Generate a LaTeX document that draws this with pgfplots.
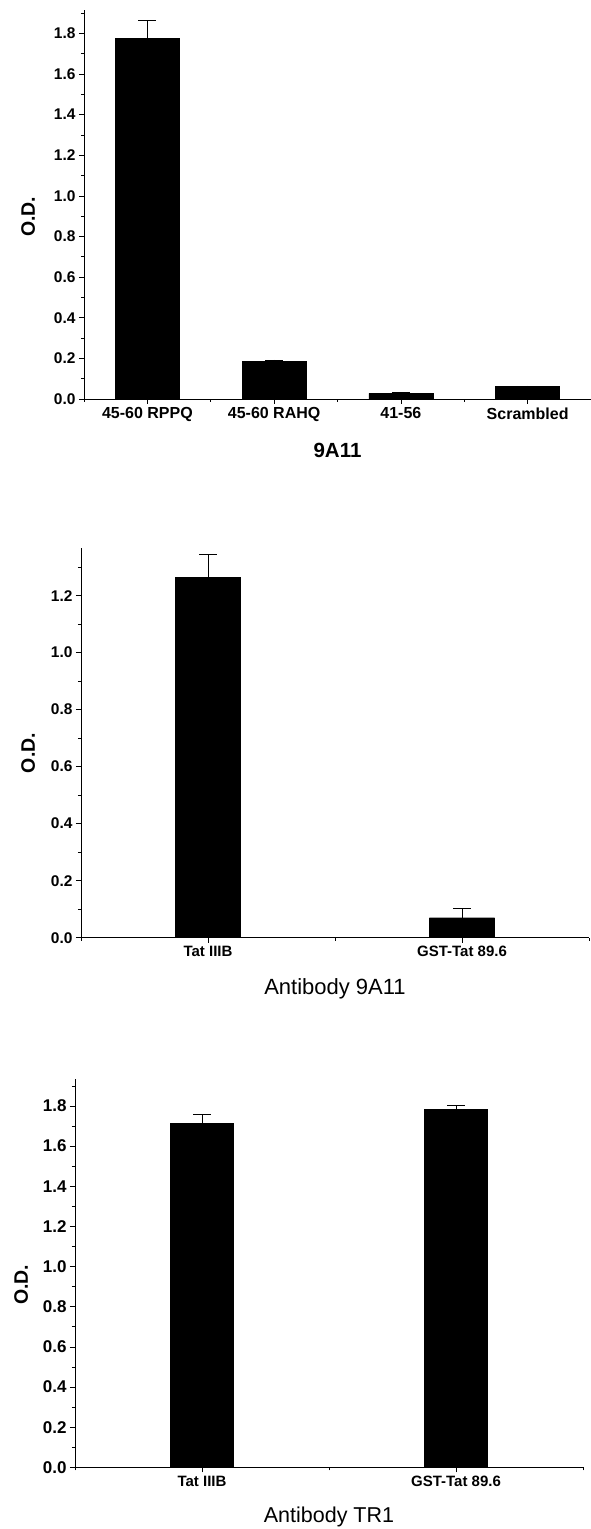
\documentclass[border=0pt]{standalone}
\usepackage{fontspec}
\setmainfont{Liberation Sans}
\usepackage{pgfplots}
\usepackage{pgfplotstable}
\pgfplotsset{compat=1.18}

\pgfplotstableread{
x y e
1 1.775 0.087
2 0.184 0.008
3 0.028 0.005
4 0.061 0.003
}\dataA
\pgfplotstableread{
x y e
1 1.264 0.079
2 0.070 0.032
}\dataB
\pgfplotstableread{
x y e
1 1.712 0.047
2 1.785 0.018
}\dataC

\pgfplotsset{
  odstyle/.style={
    scale only axis,
    anchor=south west,
    axis lines=left,
    axis line style={-, line width=0.8pt, black},
    tick align=outside,
    major tick length=5pt,
    minor tick length=3pt,
    every tick/.style={black, line width=0.7pt},
    ymin=0,
    ytick distance=0.2,
    minor y tick num=1,
    /pgf/number format/assume math mode=true,
    yticklabel style={/pgf/number format/fixed, /pgf/number format/fixed zerofill, /pgf/number format/precision=1, font=\fontsize{15.5}{17}\selectfont\bfseries},
    xticklabel style={font=\fontsize{16}{18}\selectfont\bfseries},
    ylabel={O.D.},
    ylabel style={anchor=center, font=\fontsize{19.5}{21}\selectfont\bfseries},
    xlabel style={anchor=center},
    clip=false,
  },
  odbar/.style={ybar, fill=black, draw=black, mark=none,
    error bars/y dir=plus, error bars/y explicit,
    error bars/error mark=|,
    error bars/error bar style={line width=0.8pt, black},
    error bars/error mark options={black, mark size=9pt, line width=0.8pt}},
}

\begin{document}
\begin{tikzpicture}
\useasboundingbox (0,0) rectangle (591pt,1529pt);

% Panel 1
\begin{axis}[odstyle,
  at={(84pt,1130pt)}, width=507pt, height=389pt,
  xmin=0.5, xmax=4.5, ymax=1.915,
  xtick={1,2,3,4},
  xticklabels={45-60 RPPQ,45-60 RAHQ,41-56,Scrambled},
  minor xtick={0.5,1.5,2.5,3.5,4.5},
  xlabel={9A11},
  xlabel style={at={(axis description cs:0.5,-0.131)}, font=\fontsize{20.5}{22}\selectfont\bfseries},
  ylabel style={at={(axis description cs:-0.110,0.468)}},
]
\addplot[bar width=0.504, odbar] table[x=x, y=y, y error=e] {\dataA};
\end{axis}

% Panel 2
\begin{axis}[odstyle,
  at={(81pt,591.3pt)}, width=508pt, height=389.7pt,
  xmin=0.5, xmax=2.5, ymax=1.367,
  xtick={1,2},
  xticklabels={Tat IIIB,GST-Tat 89.6},
  minor xtick={0.5,1.5,2.5},
  xticklabel style={font=\fontsize{15}{17}\selectfont\bfseries},
  xlabel={Antibody 9A11},
  xlabel style={at={(axis description cs:0.5,-0.131)}, font=\fontsize{22}{24}\selectfont},
  ylabel style={at={(axis description cs:-0.104,0.474)}},
]
\addplot[bar width=0.256, odbar] table[x=x, y=y, y error=e] {\dataB};
\end{axis}

% Panel 3
\begin{axis}[odstyle,
  at={(75pt,61.7pt)}, width=508pt, height=388pt,
  xmin=0.5, xmax=2.5, ymax=1.933,
  xtick={1,2},
  xticklabels={Tat IIIB,GST-Tat 89.6},
  minor xtick={0.5,1.5,2.5},
  xticklabel style={font=\fontsize{15}{17}\selectfont\bfseries},
  yticklabel style={font=\fontsize{17}{19}\selectfont\bfseries},
  xlabel={Antibody TR1},
  xlabel style={at={(axis description cs:0.5,-0.128)}, font=\fontsize{21.5}{23}\selectfont},
  ylabel style={at={(axis description cs:-0.106,0.47)}},
]
\addplot[bar width=0.248, odbar] table[x=x, y=y, y error=e] {\dataC};
\end{axis}
\end{tikzpicture}
\end{document}
